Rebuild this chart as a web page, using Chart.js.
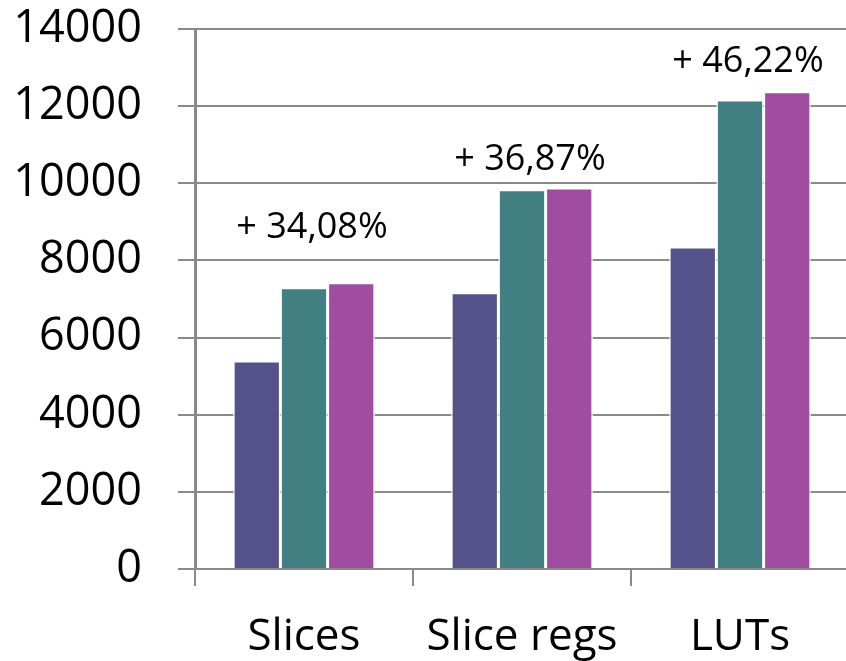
<!DOCTYPE html>
<html>
<head>
<meta charset="utf-8">
<script src="https://cdn.jsdelivr.net/npm/chart.js@4/dist/chart.umd.min.js"></script>
<style>
    html, body { margin: 0; padding: 0; background: #fff; overflow: hidden; }
    #wrap { position: absolute; left: 0; top: 0; width: 850px; height: 661px; }
</style>
</head>
<body>
<div id="wrap"><canvas id="chart" width="850" height="661"></canvas></div>
<script>
const categories = ["Slices", "Slice regs", "LUTs"];
const series1 = [5390, 7160, 8350];
const series2 = [7290, 9830, 12160];
const series3 = [7420, 9880, 12370];
const notes = ["+ 34,08%", "+ 36,87%", "+ 46,22%"];
const noteLevel = [8850, 10600, 13150];   // value height where each note sits
const yTicks = [0, 2000, 4000, 6000, 8000, 10000, 12000, 14000];

const FONT = "'Open Sans', 'DejaVu Sans', sans-serif";
const GRID = '#898989';

// draws the percentage notes above each group
const notePlugin = {
    id: 'notes',
    afterDatasetsDraw(chart) {
        const ctx = chart.ctx;
        const x = chart.scales.x, y = chart.scales.y;
        ctx.save();
        ctx.font = "36px " + FONT;
        ctx.fillStyle = '#000';
        ctx.textAlign = 'center';
        ctx.textBaseline = 'middle';
        notes.forEach((txt, i) => {
            ctx.fillText(txt, x.getPixelForValue(i) + 8, y.getPixelForValue(noteLevel[i]));
        });
        ctx.restore();
    }
};

const bar = (label, data, color) => ({
    label, data,
    backgroundColor: color,
    borderColor: '#ffffff',
    borderWidth: 1.5,
    categoryPercentage: 0.65,
    barPercentage: 1.0
});

new Chart(document.getElementById('chart'), {
    type: 'bar',
    data: {
        labels: categories,
        datasets: [
            bar('Series 1', series1, '#53528a'),
            bar('Series 2', series2, '#427f82'),
            bar('Series 3', series3, '#a04da1')
        ]
    },
    options: {
        responsive: false,
        animation: false,
        devicePixelRatio: 1,
        layout: { padding: { top: 29, right: 1, bottom: 0, left: 0 } },
        plugins: { legend: { display: false }, tooltip: { enabled: false } },
        scales: {
            x: {
                afterFit: s => { s.height = 92; },
                grid: { drawOnChartArea: false, drawTicks: true, tickLength: 17, color: GRID, lineWidth: 2 },
                border: { color: GRID, width: 2 },
                ticks: { color: '#000', font: { family: FONT, size: 44 }, padding: 25 }
            },
            y: {
                min: 0, max: 14000,
                afterFit: s => { s.width = 195; s.paddingTop = 0; s.paddingBottom = 0; },
                afterBuildTicks: s => { s.ticks = yTicks.map(v => ({ value: v })); },
                grid: { color: GRID, lineWidth: 2, tickLength: 17 },
                border: { color: GRID, width: 3 },
                ticks: { color: '#000', font: { family: FONT, size: 45 }, padding: 36,
                         callback: v => String(v) }
            }
        }
    },
    plugins: [notePlugin]
});
</script>
</body>
</html>
